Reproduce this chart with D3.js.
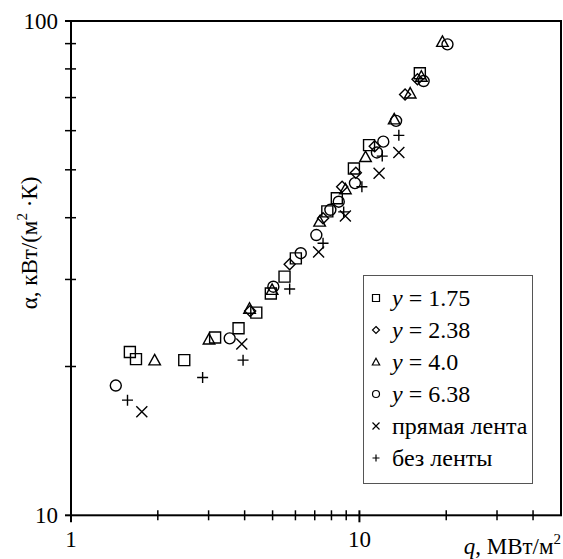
<!DOCTYPE html>
<html>
<head>
<meta charset="utf-8">
<script src="https://cdn.jsdelivr.net/npm/d3@7"></script>
<style>
  body { margin: 0; background: #fff; }
</style>
</head>
<body>
<div id="chart"></div>
<script>
// q (МВт/м2) and alpha (кВт/(м2·К))
var sq175 = [[1.60, 21.4], [1.68, 20.7], [2.47, 20.6], [3.16, 22.9], [3.81, 23.9], [4.39, 25.7],
             [4.93, 28.1], [5.50, 30.4], [6.02, 33.1], [7.74, 41.2], [8.35, 43.8], [9.57, 50.3],
             [10.8, 56.1], [16.2, 78.4]];
var dia238 = [[4.18, 25.9], [5.73, 32.2], [7.48, 39.9], [8.71, 46.2], [9.72, 49.3], [11.3, 55.8],
              [14.4, 71.0], [15.9, 76.2]];
var tri40 = [[1.95, 20.6], [3.01, 22.7], [4.16, 26.2], [4.98, 28.6], [7.28, 39.3], [8.94, 45.7],
             [10.5, 53.1], [13.2, 63.3], [15.0, 71.4], [16.4, 77.2], [19.4, 90.8]];
var circ638 = [[1.43, 18.3], [3.55, 22.8], [5.03, 29.0], [6.26, 33.9], [7.09, 36.9], [7.93, 41.5],
               [8.48, 43.1], [9.65, 47.0], [11.5, 54.2], [12.1, 57.0], [13.4, 62.8], [16.7, 75.6],
               [20.2, 89.7]];
var straightTape = [[1.76, 16.2], [3.91, 22.2], [7.22, 34.1], [8.94, 40.3], [11.7, 49.2], [13.7, 54.2]];
var noTape = [[1.57, 17.1], [2.86, 19.0], [3.95, 20.6], [5.73, 28.7], [7.48, 35.5], [8.82, 41.1],
              [10.2, 46.2], [12.0, 53.3], [13.7, 58.7]];

var seriesNames = ["y = 1.75", "y = 2.38", "y = 4.0", "y = 6.38", "прямая лента", "без ленты"];
var seriesShapes = ["square", "diamond", "triangle", "circle", "cross", "plus"];
var seriesData = [sq175, dia238, tri40, circ638, straightTape, noTape];

var xTicksMinor = [2, 3, 4, 5, 6, 7, 8, 9, 20, 30, 40];
var yTicksMinor = [20, 30, 40, 50, 60, 70, 80, 90];

var W = 563, H = 559;
var FONT = "'Liberation Serif'";
var x = d3.scaleLog().domain([1, 50]).range([71, 561]);
var y = d3.scaleLog().domain([10, 100]).range([515.3, 21]);

var svg = d3.select("#chart").append("svg")
    .attr("width", W)
    .attr("height", H);

// marker shapes, r = half size
function markerPath(type, r) {
  var p = d3.path();
  if (type == "square") {
    p.rect(-r, -r, 2 * r, 2 * r);
  } else if (type == "diamond") {
    p.moveTo(0, -r); p.lineTo(r, 0); p.lineTo(0, r); p.lineTo(-r, 0); p.closePath();
  } else if (type == "triangle") {
    p.moveTo(0, -r * 1.05); p.lineTo(r * 1.05, r * 0.85); p.lineTo(-r * 1.05, r * 0.85); p.closePath();
  } else if (type == "circle") {
    p.arc(0, 0, r, 0, 2 * Math.PI);
  } else if (type == "cross") {
    p.moveTo(-r, -r); p.lineTo(r, r); p.moveTo(r, -r); p.lineTo(-r, r);
  } else if (type == "plus") {
    p.moveTo(-r, 0); p.lineTo(r, 0); p.moveTo(0, -r); p.lineTo(0, r);
  }
  return p.toString();
}

// frame
svg.append("rect")
    .attr("x", x(1)).attr("y", y(100))
    .attr("width", x(50) - x(1)).attr("height", y(10) - y(100))
    .attr("fill", "none").attr("stroke", "#000").attr("stroke-width", 2);

// x ticks
svg.selectAll(".xt").data(xTicksMinor).enter().append("line")
    .attr("x1", function(d) { return x(d); }).attr("x2", function(d) { return x(d); })
    .attr("y1", y(10) - 5).attr("y2", y(10) + 5)
    .attr("stroke", "#000").attr("stroke-width", 1.5);
svg.selectAll(".xT").data([1, 10]).enter().append("line")
    .attr("x1", function(d) { return x(d); }).attr("x2", function(d) { return x(d); })
    .attr("y1", y(10) - 5).attr("y2", y(10) + 7)
    .attr("stroke", "#000").attr("stroke-width", 2);

// y ticks
svg.selectAll(".yt").data(yTicksMinor).enter().append("line")
    .attr("x1", x(1) - 6).attr("x2", x(1) + 5)
    .attr("y1", function(d) { return y(d); }).attr("y2", function(d) { return y(d); })
    .attr("stroke", "#000").attr("stroke-width", 1.5);
svg.selectAll(".yT").data([10, 100]).enter().append("line")
    .attr("x1", x(1) - 6).attr("x2", x(1))
    .attr("y1", function(d) { return y(d); }).attr("y2", function(d) { return y(d); })
    .attr("stroke", "#000").attr("stroke-width", 2);

// tick labels
svg.selectAll(".xl").data([1, 10]).enter().append("text")
    .attr("x", function(d) { return x(d); })
    .attr("y", 547)
    .attr("text-anchor", "middle")
    .style("font-family", FONT)
    .style("font-size", "23px")
    .text(function(d) { return d; });
svg.selectAll(".yl").data([10, 100]).enter().append("text")
    .attr("x", 58)
    .attr("y", function(d) { return y(d) + 8; })
    .attr("text-anchor", "end")
    .style("font-family", FONT)
    .style("font-size", "23px")
    .text(function(d) { return d; });

// axis titles
var xt = svg.append("text")
    .attr("x", 561).attr("y", 554)
    .attr("text-anchor", "end")
    .style("font-family", FONT)
    .style("font-size", "23px");
xt.append("tspan").style("font-style", "italic").text("q");
xt.append("tspan").text(", МВт/м");
xt.append("tspan").attr("dy", -10).style("font-size", "15px").text("2");

var yt = svg.append("text")
    .attr("transform", "translate(37,243) rotate(-90)")
    .attr("text-anchor", "middle")
    .style("font-family", FONT)
    .style("font-size", "23px");
yt.append("tspan").text("α, кВт/(м");
yt.append("tspan").attr("dy", -10).style("font-size", "15px").text("2");
yt.append("tspan").attr("dy", 10).text(" ·К)");

// data points
seriesData.forEach(function(data, i) {
  svg.append("g").selectAll("path")
      .data(data)
    .enter().append("path")
      .attr("transform", function(d) { return "translate(" + x(d[0]) + "," + y(d[1]) + ")"; })
      .attr("d", markerPath(seriesShapes[i], 5.5))
      .attr("fill", "none")
      .attr("stroke", "#000")
      .attr("stroke-width", 1.4);
});

// legend
var lg = svg.append("g");
lg.append("rect")
    .attr("x", 363.5).attr("y", 275.5)
    .attr("width", 169).attr("height", 208)
    .attr("fill", "#fff").attr("stroke", "#555").attr("stroke-width", 1);
seriesNames.forEach(function(name, i) {
  var cy = 298 + i * 32;
  lg.append("path")
      .attr("transform", "translate(376," + cy + ")")
      .attr("d", markerPath(seriesShapes[i], 3.5))
      .attr("fill", "none").attr("stroke", "#000").attr("stroke-width", 1.2);
  var t = lg.append("text")
      .attr("x", 392).attr("y", cy + 8)
      .style("font-family", FONT)
      .style("font-size", "24px");
  if (i < 4) {
    t.append("tspan").style("font-style", "italic").text("y");
    t.append("tspan").text(name.slice(1));
  } else {
    t.text(name);
  }
});
</script>
</body>
</html>
